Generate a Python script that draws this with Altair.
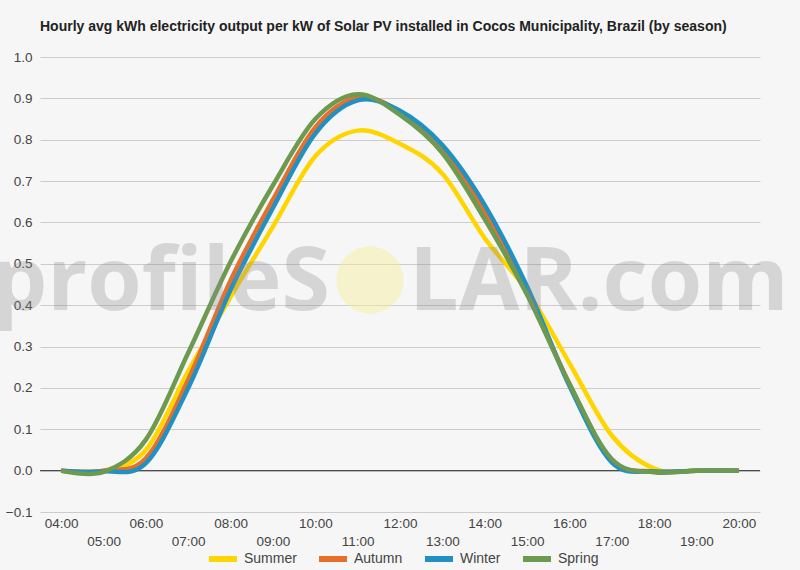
import altair as alt
import pandas as pd

hours = list(range(4, 21))
seasons = ["Summer", "Autumn", "Winter", "Spring"]
summer = [0.0, 0.0, 0.05, 0.24, 0.42, 0.59, 0.76, 0.822, 0.79, 0.718, 0.562, 0.435, 0.26, 0.085, 0.005, 0.0, 0.0]
autumn = [0.0, 0.0, 0.03, 0.22, 0.46, 0.655, 0.83, 0.902, 0.868, 0.78, 0.625, 0.435, 0.21, 0.025, -0.002, 0.0, 0.0]
winter = [0.0, -0.002, 0.018, 0.20, 0.437, 0.635, 0.815, 0.895, 0.87, 0.787, 0.642, 0.445, 0.205, 0.02, -0.002, 0.0, 0.0]
spring = [0.0, -0.003, 0.075, 0.285, 0.505, 0.69, 0.85, 0.91, 0.86, 0.768, 0.608, 0.425, 0.21, 0.028, -0.004, 0.0, 0.0]
colors = ["#FFD500", "#E5702A", "#2191C4", "#6C9A50"]
y_ticks = [round(-0.1 + 0.05 * i, 2) for i in range(23)]
title_text = "Hourly avg kWh electricity output per kW of Solar PV installed in Cocos Municipality, Brazil (by season)"

rows = []
for name, vals in zip(seasons, [summer, autumn, winter, spring]):
    for h, v in zip(hours, vals):
        rows.append({"hour": h, "value": v, "season": name})
df = pd.DataFrame(rows)

FONT = "Arial, Liberation Sans, sans-serif"

x_enc = alt.X(
    "hour:Q",
    scale=alt.Scale(domain=[3.5, 20.5], nice=False, zero=False),
    axis=alt.Axis(
        values=hours,
        labelExpr="(datum.value < 10 ? '0' : '') + datum.value + ':00'",
        grid=False, domain=False, ticks=False, title=None,
        labelFlush=False, labelOverlap=False, labelFontSize=13.5, labelColor="#444",
        labelFont=FONT, labelBaseline="top",
        labelPadding={"condition": {"test": "datum.value % 2 == 1", "value": 22}, "value": 4},
    ),
)
y_enc = alt.Y(
    "value:Q",
    scale=alt.Scale(domain=[-0.1, 1.0], nice=False, zero=False),
    axis=alt.Axis(
        values=y_ticks,
        labelExpr="round(datum.value*100) % 10 == 0 ? format(datum.value, '.1f') : ''",
        grid=True,
        gridColor={"condition": {"test": "round(datum.value*100) % 10 == 0", "value": "#cccccc"}, "value": "#e6e6e6"},
        domain=False, ticks=False, title=None, labelOverlap=False, labelFlush=False,
        labelFontSize=13.5, labelColor="#444", labelFont=FONT, labelPadding=8,
    ),
)

lines = alt.Chart(df).mark_line(interpolate="cardinal", strokeWidth=4.5).encode(
    x=x_enc,
    y=y_enc,
    color=alt.Color(
        "season:N",
        scale=alt.Scale(domain=seasons, range=colors),
        sort=seasons,
        legend=alt.Legend(
            title=None, orient="none", direction="horizontal", legendX=166, legendY=485,
            symbolType="stroke", symbolSize=784, symbolStrokeWidth=6,
            labelFontSize=14, labelColor="#444", labelFont=FONT, columnPadding=10, labelOffset=4,
        ),
    ),
    order=alt.Order("order:Q"),
).transform_calculate(order="indexof(['Summer','Autumn','Winter','Spring'], datum.season)")

zero = alt.Chart(pd.DataFrame({"z": [0.0]})).mark_rule(color="#333333", strokeWidth=1).encode(y="z:Q")

wm1 = alt.Chart(pd.DataFrame({"t": ["profileS"]})).mark_text(
    align="right", baseline="alphabetic", fontSize=88, font="Open Sans", fontWeight=700,
    color="#8a8a8a", opacity=0.3,
).encode(text="t:N", x=alt.value(290), y=alt.value(253))
wm2 = alt.Chart(pd.DataFrame({"t": ["LAR.com"]})).mark_text(
    align="left", baseline="alphabetic", fontSize=88, font="Open Sans", fontWeight=700,
    color="#8a8a8a", opacity=0.3,
).encode(text="t:N", x=alt.value(369), y=alt.value(253))
sun = alt.Chart(pd.DataFrame({"s": [1]})).mark_circle(
    size=4536, color="#f7ee9a", opacity=0.45
).encode(x=alt.value(330), y=alt.value(223))

chart = alt.layer(zero, lines, sun, wm1, wm2).properties(
    width=720,
    height=455,
    title=alt.TitleParams(
        title_text, anchor="start", frame="group", fontSize=14, fontWeight="bold",
        font=FONT, color="#222222", offset=16,
    ),
    autosize=alt.AutoSizeParams(type="none"),
    padding={"left": 40, "top": 57, "right": 40, "bottom": 58},
).configure(background="#f6f6f6").configure_view(stroke=None)

chart.save("out.html", embed_options={"renderer": "svg", "actions": False})
